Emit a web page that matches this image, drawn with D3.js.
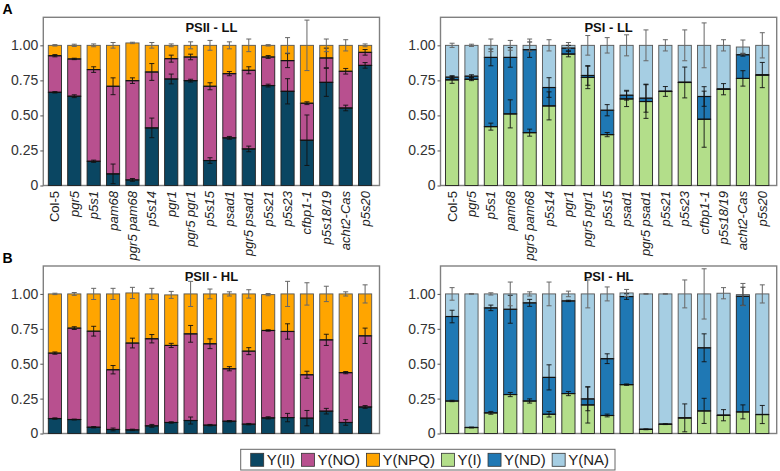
<!DOCTYPE html>
<html><head><meta charset="utf-8">
<script src="https://cdn.jsdelivr.net/npm/d3@7"></script>
<style>body{margin:0;background:#fff} svg{display:block} text{font-family:"Liberation Sans",Arial,sans-serif}</style>
</head><body><svg id="c" width="780" height="471"></svg>
<script>
const genotypes = ["Col-5","pgr5","p5s1","pam68","pgr5 pam68","p5s14","pgr1","pgr5 pgr1","p5s15","psad1","pgr5 psad1","p5s21","p5s23","cfbp1-1","p5s18/19","acht2-Cas","p5s20"];
const yTickValues = [0, 0.25, 0.5, 0.75, 1];
const yTickLabels = ["0", "0.25", "0.50", "0.75", "1.00"];
const legendKeys = ["Y(II)", "Y(NO)", "Y(NPQ)", "Y(I)", "Y(ND)", "Y(NA)"];
const legendColors = ["#0a4662", "#b8508f", "#ffa500", "#b3de8a", "#1f78b4", "#a6cee3"];

// PSII - LL
const llYII  = [0.665,0.637,0.173,0.083,0.040,0.411,0.760,0.748,0.178,0.340,0.261,0.713,0.672,0.323,0.736,0.553,0.857];
const llYNO  = [0.261,0.266,0.654,0.625,0.708,0.399,0.145,0.169,0.530,0.458,0.561,0.204,0.219,0.264,0.174,0.262,0.093];
const llYNPQ = [0.074,0.097,0.173,0.292,0.269,0.190,0.095,0.083,0.292,0.202,0.178,0.083,0.109,0.413,0.090,0.185,0.050];
const llYIIerr  = [0.005,0.010,0.008,0.070,0.010,0.070,0.035,0.010,0.020,0.010,0.020,0.010,0.090,0.180,0.100,0.020,0.020];
const llYNOerr  = [0.008,0.005,0.020,0.060,0.020,0.060,0.025,0.020,0.025,0.015,0.025,0.010,0.050,0.010,0.070,0.020,0.020];
const llYNPQerr = [0.005,0.008,0.010,0.020,0.005,0.020,0.010,0.025,0.035,0.025,0.045,0.005,0.055,0.180,0.045,0.040,0.010];
// PSI - LL
const llYI  = [0.754,0.758,0.420,0.511,0.377,0.568,0.938,0.771,0.363,0.618,0.599,0.671,0.735,0.473,0.687,0.764,0.788];
const llYND = [0.019,0.022,0.494,0.403,0.592,0.131,0.042,0.014,0.174,0.026,0.024,0.002,0.002,0.162,0.002,0.169,0.002];
const llYNA = [0.227,0.220,0.086,0.086,0.031,0.301,0.020,0.215,0.463,0.356,0.377,0.327,0.263,0.365,0.311,0.055,0.210];
const llYIerr  = [0.025,0.010,0.025,0.100,0.025,0.100,0.020,0.080,0.015,0.055,0.120,0.035,0.110,0.200,0.040,0.055,0.090];
const llYNDerr = [0.010,0.010,0.060,0.070,0.055,0.070,0.020,0.070,0.040,0.035,0.100,0.000,0.000,0.070,0.000,0.010,0.000];
const llYNAerr = [0.015,0.008,0.045,0.035,0.045,0.040,0.020,0.070,0.055,0.075,0.110,0.040,0.110,0.160,0.040,0.050,0.090];
// PSII - HL
const hlYII  = [0.107,0.100,0.045,0.029,0.026,0.055,0.079,0.093,0.060,0.088,0.067,0.112,0.114,0.110,0.160,0.079,0.190];
const hlYNO  = [0.469,0.655,0.688,0.428,0.622,0.624,0.552,0.621,0.583,0.376,0.523,0.626,0.617,0.311,0.511,0.357,0.510];
const hlYNPQ = [0.424,0.245,0.267,0.543,0.359,0.321,0.362,0.286,0.357,0.536,0.410,0.257,0.269,0.579,0.329,0.564,0.300];
const hlYIIerr  = [0.005,0.003,0.005,0.010,0.005,0.010,0.005,0.025,0.005,0.005,0.005,0.008,0.030,0.055,0.020,0.020,0.010];
const hlYNOerr  = [0.008,0.010,0.035,0.030,0.035,0.030,0.015,0.060,0.035,0.015,0.025,0.005,0.055,0.025,0.040,0.008,0.055];
const hlYNPQerr = [0.005,0.010,0.040,0.040,0.040,0.040,0.025,0.090,0.035,0.015,0.030,0.008,0.090,0.080,0.055,0.015,0.065];
// PSI - HL
const hlYI  = [0.233,0.043,0.148,0.279,0.233,0.138,0.286,0.205,0.129,0.350,0.030,0.067,0.112,0.162,0.131,0.155,0.136];
const hlYND = [0.605,0.000,0.752,0.611,0.703,0.264,0.664,0.043,0.407,0.631,0.000,0.000,0.000,0.452,0.000,0.828,0.000];
const hlYNA = [0.162,0.957,0.100,0.110,0.064,0.598,0.050,0.752,0.464,0.026,0.970,0.933,0.888,0.386,0.874,0.012,0.864];
const hlYIerr  = [0.005,0.003,0.010,0.015,0.015,0.020,0.015,0.130,0.010,0.005,0.003,0.003,0.100,0.090,0.040,0.050,0.065];
const hlYNDerr = [0.045,0.000,0.020,0.100,0.025,0.090,0.005,0.085,0.035,0.020,0.000,0.000,0.000,0.100,0.000,0.065,0.000];
const hlYNAerr = [0.045,0.003,0.008,0.085,0.015,0.085,0.020,0.100,0.050,0.025,0.003,0.003,0.100,0.180,0.040,0.080,0.065];

const svg = d3.select("#c");

const panels = [
  {title:"PSII - LL", fx0:43.3, fx1:379.5, fy0:17.3, fy1:185.5, vals:[llYII,llYNO,llYNPQ], errs:[llYIIerr,llYNOerr,llYNPQerr], cols:[0,1,2], xlabels:true},
  {title:"PSI - LL",  fx0:440.5, fx1:776.7, fy0:17.3, fy1:185.5, vals:[llYI,llYND,llYNA], errs:[llYIerr,llYNDerr,llYNAerr], cols:[3,4,5], xlabels:true},
  {title:"PSII - HL", fx0:43.3, fx1:379.5, fy0:266, fy1:433.5, vals:[hlYII,hlYNO,hlYNPQ], errs:[hlYIIerr,hlYNOerr,hlYNPQerr], cols:[0,1,2], xlabels:false},
  {title:"PSI - HL",  fx0:440.5, fx1:776.7, fy0:266, fy1:433.5, vals:[hlYI,hlYND,hlYNA], errs:[hlYIerr,hlYNDerr,hlYNAerr], cols:[3,4,5], xlabels:false}
];

panels.forEach(p => {
  const g = svg.append("g");
  const y = d3.scaleLinear().domain([0, 1.2]).range([p.fy1, p.fy0]);
  const step = (p.fx1 - p.fx0 - 6.6) / 17;
  const x = d3.scaleBand().domain(genotypes)
    .range([p.fx0 + 5 - 0.16*step, p.fx0 + 5 - 0.16*step + 17*step])
    .paddingInner(0.32).paddingOuter(0.16);
  const bw = x.bandwidth();

  // frame
  g.append("rect").attr("x", p.fx0).attr("y", p.fy0)
    .attr("width", p.fx1 - p.fx0).attr("height", p.fy1 - p.fy0)
    .attr("fill", "#fff").attr("stroke", "#808080").attr("stroke-width", 1.4);

  // bars
  const segs = [];
  genotypes.forEach((gname, i) => {
    let base = 0;
    p.vals.forEach((arr, k) => {
      const v = arr[i];
      segs.push({g:gname, k, y0:base, y1:base+v, err:p.errs[k][i]});
      base += v;
    });
  });
  g.selectAll("rect.seg").data(segs).join("rect").attr("class","seg")
    .attr("x", d => x(d.g)).attr("width", bw)
    .attr("y", d => y(d.y1)).attr("height", d => Math.max(0, y(d.y0) - y(d.y1)))
    .attr("fill", d => legendColors[p.cols[d.k]])
    .attr("stroke", d => d.k === 2 ? "#555" : "#222").attr("stroke-width", 0.9);
  // segment top lines (dark)
  g.selectAll("line.top").data(segs.filter(d => d.k < 2)).join("line").attr("class","top")
    .attr("x1", d => x(d.g)).attr("x2", d => x(d.g) + bw)
    .attr("y1", d => y(d.y1)).attr("y2", d => y(d.y1))
    .attr("stroke", "#111").attr("stroke-width", 1.2);

  // error bars
  const eb = g.selectAll("g.eb").data(segs.filter(d => d.err > 0)).join("g").attr("class","eb")
    .attr("stroke", d => d.k === 2 ? "#666" : "#111").attr("stroke-width", d => d.k === 2 ? 1 : 0.9);
  eb.append("line").attr("x1", d => x(d.g) + bw/2).attr("x2", d => x(d.g) + bw/2)
    .attr("y1", d => y(d.y1 - d.err)).attr("y2", d => y(d.y1 + d.err));
  eb.append("line").attr("x1", d => x(d.g) + bw/2 - 2.5).attr("x2", d => x(d.g) + bw/2 + 2.5)
    .attr("y1", d => y(d.y1 - d.err)).attr("y2", d => y(d.y1 - d.err));
  eb.append("line").attr("x1", d => x(d.g) + bw/2 - 2.5).attr("x2", d => x(d.g) + bw/2 + 2.5)
    .attr("y1", d => y(d.y1 + d.err)).attr("y2", d => y(d.y1 + d.err));

  // y axis
  const ya = d3.axisLeft(y).tickValues(yTickValues).tickSize(3).tickPadding(2)
    .tickFormat((d, i) => yTickLabels[i]);
  const yg = g.append("g").attr("transform", `translate(${p.fx0},0)`).call(ya);
  yg.select(".domain").remove();
  yg.selectAll("line").attr("stroke", "#555");
  yg.selectAll("text").attr("font-size", 14).attr("fill", "#333")
    .attr("font-family", '"Liberation Sans",Arial,sans-serif');

  // title
  g.append("text").attr("x", (p.fx0 + p.fx1)/2).attr("y", p.fy0 + 14.5)
    .attr("text-anchor", "middle").attr("font-weight", "bold").attr("font-size", 13)
    .attr("fill", "#111").text(p.title);

  // x labels
  if (p.xlabels) {
    g.selectAll("text.xl").data(genotypes).join("text").attr("class","xl")
      .attr("transform", d => `translate(${x(d) + bw/2 + 4.5},${p.fy1 + 5.5}) rotate(-90)`)
      .attr("text-anchor", "end").attr("font-size", 13).attr("fill", "#222")
      .attr("font-style", d => d === "Col-5" ? "normal" : "italic")
      .text(d => d);
  }
});

// panel letters
svg.append("text").attr("x", 2.5).attr("y", 13.5).attr("font-size", 14).attr("font-weight", "bold").text("A");
svg.append("text").attr("x", 2.5).attr("y", 262.5).attr("font-size", 14).attr("font-weight", "bold").text("B");

// legend
const lg = svg.append("g");
const lx0 = 240.7, lx1 = 615, ly0 = 449.3, ly1 = 470;
lg.append("rect").attr("x", lx0).attr("y", ly0).attr("width", lx1 - lx0).attr("height", ly1 - ly0)
  .attr("fill", "#fff").attr("stroke", "#666").attr("stroke-width", 1);
const items = lg.selectAll("g.li").data(legendKeys).join("g").attr("class","li");
items.append("rect").attr("width", 13).attr("height", 13).attr("y", ly0 + 4)
  .attr("fill", (d, i) => legendColors[i]).attr("stroke", "#333").attr("stroke-width", 0.8);
items.append("text").attr("x", 16).attr("y", ly0 + 15.5).attr("font-size", 15).attr("fill", "#222").text(d => d);
let cx = 250.7;
const gap = ((lx1 - 6) - 250.7 - d3.sum(items.nodes(), n => 16 + n.querySelector("text").getComputedTextLength())) / 5;
items.each(function() {
  d3.select(this).attr("transform", `translate(${cx},0)`);
  cx += 16 + this.querySelector("text").getComputedTextLength() + gap;
});
</script>
</body></html>
